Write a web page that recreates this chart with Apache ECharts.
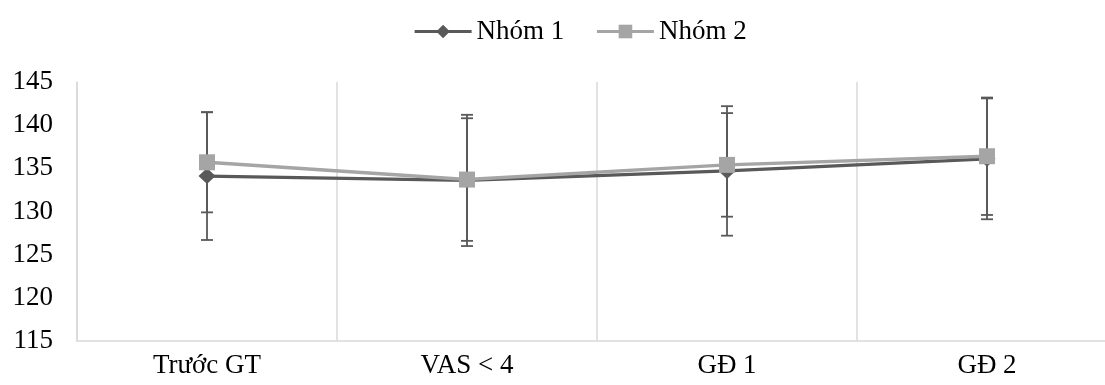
<!DOCTYPE html>
<html>
<head>
<meta charset="utf-8">
<script src="https://cdn.jsdelivr.net/npm/echarts@6/dist/echarts.min.js"></script>
<style>
  html, body { margin: 0; padding: 0; background: #fff; }
  #chart { width: 1105px; height: 385px; }
</style>
</head>
<body>
<div id="chart"></div>
<script>
// Categories along the x axis
const categories = ['Trước GT', 'VAS < 4', 'GĐ 1', 'GĐ 2'];

// Group means and standard deviations
const group1Name = 'Nhóm 1';
const group1Mean = [134.1, 133.6, 134.7, 136.1];
const group1SD   = [7.4, 7.6, 7.5, 7.0];

const group2Name = 'Nhóm 2';
const group2Mean = [135.7, 133.7, 135.4, 136.4];
const group2SD   = [5.8, 7.1, 6.0, 6.8];

// Value axis range
const yMin = 115, yMax = 145, yStep = 5;

const FONT = '"Liberation Serif", "Times New Roman", serif';
const DARK = '#595959';
const LIGHT = '#A5A5A5';
const AXIS = '#D9D9D9';

function errorData(means, sds) {
  return means.map((m, i) => [i, m - sds[i], m + sds[i]]);
}

function renderErrorBar(params, api) {
  const x = api.value(0);
  const lo = api.coord([x, api.value(1)]);
  const hi = api.coord([x, api.value(2)]);
  const half = 6;
  const style = { stroke: DARK, lineWidth: 1.8 };
  return {
    type: 'group',
    children: [
      { type: 'line', shape: { x1: hi[0], y1: hi[1], x2: lo[0], y2: lo[1] }, style },
      { type: 'line', shape: { x1: hi[0] - half, y1: hi[1], x2: hi[0] + half, y2: hi[1] }, style },
      { type: 'line', shape: { x1: lo[0] - half, y1: lo[1], x2: lo[0] + half, y2: lo[1] }, style }
    ]
  };
}

const chart = echarts.init(document.getElementById('chart'), null, { renderer: 'canvas' });

chart.setOption({
  backgroundColor: '#fff',
  animation: false,
  legend: {
    data: [group1Name, group2Name],
    top: 13,
    left: 408,
    itemWidth: 57,
    itemHeight: 17,
    itemGap: 31,
    lineStyle: { width: 3.2 },
    textStyle: { fontFamily: FONT, fontSize: 27, color: '#000' }
  },
  grid: {
    left: 77, top: 82, width: 1040, height: 259,
    containLabel: false,
    outerBoundsMode: 'none'
  },
  xAxis: {
    type: 'category',
    data: categories,
    boundaryGap: true,
    axisLine: { show: true, lineStyle: { color: AXIS, width: 1.5 } },
    axisTick: { show: false },
    axisLabel: { fontFamily: FONT, fontSize: 27, color: '#000', margin: 11 },
    splitLine: { show: true, lineStyle: { color: AXIS, width: 1.5 } }
  },
  yAxis: {
    type: 'value',
    min: yMin,
    max: yMax,
    interval: yStep,
    axisLine: { show: true, lineStyle: { color: AXIS, width: 1.5 } },
    axisTick: { show: false },
    splitLine: { show: false },
    axisLabel: { fontFamily: FONT, fontSize: 27, color: '#000', margin: 24 }
  },
  series: [
    {
      name: 'err1',
      type: 'custom',
      renderItem: renderErrorBar,
      data: errorData(group1Mean, group1SD),
      encode: { x: 0, y: [1, 2] },
      z: 1,
      silent: true
    },
    {
      name: 'err2',
      type: 'custom',
      renderItem: renderErrorBar,
      data: errorData(group2Mean, group2SD),
      encode: { x: 0, y: [1, 2] },
      z: 1,
      silent: true
    },
    {
      name: group1Name,
      type: 'line',
      data: group1Mean,
      symbol: 'diamond',
      symbolSize: [17, 16],
      showAllSymbol: true,
      lineStyle: { color: DARK, width: 3.4 },
      itemStyle: { color: DARK },
      z: 3
    },
    {
      name: group2Name,
      type: 'line',
      data: group2Mean,
      symbol: 'rect',
      symbolSize: 16,
      showAllSymbol: true,
      lineStyle: { color: LIGHT, width: 3.4 },
      itemStyle: { color: LIGHT },
      z: 4
    }
  ]
});
</script>
</body>
</html>
